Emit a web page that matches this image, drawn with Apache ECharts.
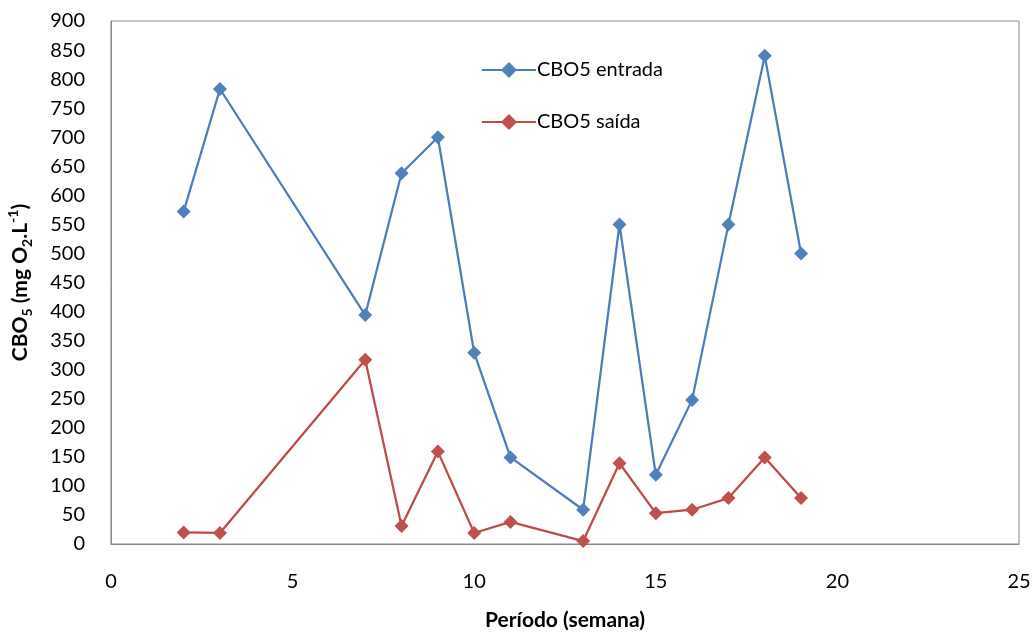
<!DOCTYPE html>
<html><head><meta charset="utf-8">
<script src="https://cdn.jsdelivr.net/npm/echarts@6/dist/echarts.min.js"></script>
<style>html,body{margin:0;padding:0;background:#fff}#c{width:1035px;height:632px}</style>
</head><body><div id="c"></div>
<script>
const semanas = [2, 3, 7, 8, 9, 10, 11, 13, 14, 15, 16, 17, 18, 19];
const entrada = [572, 783, 394, 638, 700, 329, 149, 59, 550, 119, 248, 550, 840, 500];
const saida = [20, 19, 317, 31, 159, 19, 38, 5, 139, 53, 59, 79, 149, 79];
const xTicks = [0, 5, 10, 15, 20, 25];
const seriesNames = ['CBO5 entrada', 'CBO5 saída'];
const FONT = 'Lato, "Open Sans", sans-serif';
const chart = echarts.init(document.getElementById('c'));
const mk = (xs, ys) => xs.map((x, i) => [x, ys[i]]);
chart.setOption({
  animation: false,
  grid: {left: 111, top: 21, right: 16, bottom: 88, show: true, borderColor: '#868686', borderWidth: 1,
         containLabel: false, outerBoundsMode: 'none'},
  legend: {
    left: 476, top: 55, orient: 'vertical', itemGap: 32, itemWidth: 54, itemHeight: 20,
    textStyle: {fontFamily: FONT, fontSize: 20, color: '#000', padding: [0, 0, 0, -4]},
    data: seriesNames
  },
  xAxis: {
    type: 'value', min: 0, max: 25, interval: 5,
    axisLine: {show: true, onZero: false, lineStyle: {color: '#868686'}},
    axisTick: {show: false}, splitLine: {show: false},
    axisLabel: {fontFamily: FONT, fontSize: 20, color: '#000', margin: 28},
    name: 'Período (semana)', nameLocation: 'middle', nameGap: 66,
    nameTextStyle: {fontFamily: FONT, fontSize: 21, fontWeight: 'bold', color: '#000'}
  },
  yAxis: {
    type: 'value', min: 0, max: 900, interval: 50,
    axisLine: {show: true, lineStyle: {color: '#868686'}},
    axisTick: {show: false}, splitLine: {show: false},
    axisLabel: {fontFamily: FONT, fontSize: 20, color: '#000', margin: 26},
    name: '{b|CBO}{sub|5}{b| (mg O}{sub|2}{b|.L}{sup|-1}{b|)}', nameLocation: 'middle', nameGap: 77,
    nameTextStyle: {
      fontFamily: FONT, fontSize: 21, fontWeight: 'bold', color: '#000',
      rich: {
        b: {fontFamily: FONT, fontSize: 21, fontWeight: 'bold', color: '#000', lineHeight: 28, verticalAlign: 'middle'},
        sub: {fontFamily: FONT, fontSize: 14, fontWeight: 'bold', color: '#000', lineHeight: 28, verticalAlign: 'bottom'},
        sup: {fontFamily: FONT, fontSize: 14, fontWeight: 'bold', color: '#000', lineHeight: 28, verticalAlign: 'top'}
      }
    }
  },
  series: [
    {name: seriesNames[0], type: 'line', data: mk(semanas, entrada), symbol: 'diamond', symbolSize: 14,
     lineStyle: {color: '#4A7EBB', width: 2.25}, itemStyle: {color: '#4F81BD'}},
    {name: seriesNames[1], type: 'line', data: mk(semanas, saida), symbol: 'diamond', symbolSize: 14,
     lineStyle: {color: '#BE4B48', width: 2.25}, itemStyle: {color: '#C0504D'}}
  ]
});
</script></body></html>
